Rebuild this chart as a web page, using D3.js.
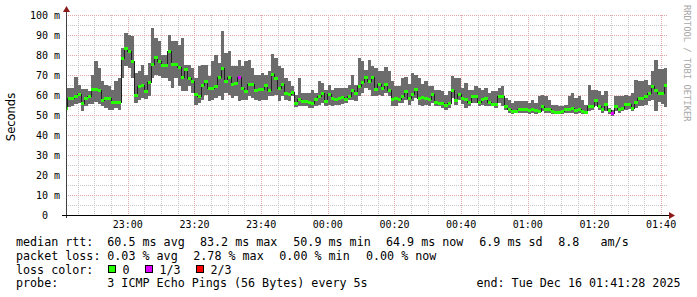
<!DOCTYPE html>
<html>
<head>
<meta charset="utf-8">
<script src="https://cdn.jsdelivr.net/npm/d3@7"></script>
<style>
html, body { margin: 0; padding: 0; background: #fff; }
svg text { font-family: "DejaVu Sans Mono", monospace; white-space: pre; }
</style>
</head>
<body>
<svg id="chart" width="697" height="297"></svg>
<script>
// rrd data, one row per 60s step starting 22:41 UTC (ms)
const stepStart = Date.UTC(2025, 11, 15, 22, 41, 0);
const stepMs = 60000;
const viewStart = Date.UTC(2025, 11, 15, 22, 41, 28);
const viewEnd = Date.UTC(2025, 11, 16, 1, 41, 28);

const median = [
  53.5,58.2,58.5,59.3,60.2,56,58.5,59.3,62.7,63,62.2,57.5,58.5,58.5,56.3,56.5,56.3,
  78.5,83.2,81.8,76.8,59.8,64.3,64.8,61.8,66.3,75.2,78.8,76.8,74.7,74.7,82,75.5,75.2,73.8,69,72.7,68.5,66.8,60.5,59.3,64.8,66.8,63.5,
  63.2,64.3,68.8,73.2,66.8,68.8,65.5,66,69,63.5,61.8,65.5,65.5,62.2,63,63,64.8,62.2,70.2,68.2,63.5,65.2,60.7,60.5,61.3,56,57.7,56.8,56.8,56.5,56,57.7,59.3,61,56.8,60.2,58.5,57.7,58.5,58.8,57.7,59.3,62.3,60.8,64.3,66.5,68.8,
  66.8,68.8,62.7,65.5,63.2,65.5,62.3,57.7,58.5,57.7,59.3,61.8,58.5,60.2,62.7,58.5,58.8,58.2,57.7,60.2,56.5,56,56,54.8,56,62.2,57.2,60.2,58.5,57.7,56.5,59.3,59.3,56.5,57.7,58.2,56.5,55.5,55.2,59.3,59.3,54.3,52.7,51.8,51.8,52.7,
  52.7,53,52.2,53,52.2,51.8,54.3,52.7,53,51.8,51.5,51.5,51.8,52.7,53,53.5,52.2,52.7,51.8,51.5,54.3,54.3,57.2,54.3,53,55.5,52.2,50.9,54.3,53,53.5,55.5,55.2,53.5,56.5,58.2,58.5,59.3,60.7,64.3,62.2,61,60.7,64.9
];
const pingMin = [
  52.7,54,54.5,55.5,56,52,54.3,55.5,55.5,56.5,55.5,54.3,53.5,52.7,52.5,53.5,52.7,
  68.5,74.3,73.5,68.5,56,57.7,58.5,58.2,59.3,68.5,70,69.5,68.5,68.5,66.8,63.5,68.5,64.3,61.8,61.8,64.3,61,55.2,56,57.7,60.2,56.8,
  57.7,58.5,59.3,57.7,61,60.2,58.5,59.3,56.8,57.7,57.7,59.3,58.5,57.7,56.8,57.7,57.7,59.3,59.3,60.2,56.8,59.3,57.7,56.8,59.3,53.8,54.3,54.3,54.3,53.5,53.5,54.3,55.2,56,54.3,55.2,54.3,55.2,55.2,55.5,56,57.7,57.7,56.8,59.3,61,63.5,
  62.7,59.3,59.3,60.2,59.3,61,59.3,54.3,54.3,56,56,57.7,55.2,56.8,58.5,55.2,54.3,55.2,54.3,56,54.3,54.3,53.5,52.7,53.5,58.5,55.2,57.7,55.5,53.5,54.3,56,56,54.3,55.2,54.3,54.3,54.3,53.5,56,54.3,52.7,51,50.7,51,51,
  51,51,50.5,51,50.7,51,52.2,51,51,50.5,50.5,50.5,50.5,51,51,51,50.5,51,50.5,50.5,52.2,52.5,54.3,52.5,51,52.2,50.5,49.7,52.2,51,52.2,52.5,53,52.2,53.5,54.3,54.3,55.2,56.8,57.7,52.2,56.5,55.5,54
];
const pingMax = [
  63.5,63.5,63.5,69,65,63,63,62,70,77,73.5,66.8,65.2,64.3,62.7,66.8,68.5,
  83.5,91,90,89.3,71,71.8,75,70,76,93.5,88.5,86.8,80,80,90,86.8,86.8,85,88.5,75,75,73.5,68.5,74.3,75,75,69.3,
  76.8,80,76,91.8,81,81.8,74.3,74.3,77.7,74.3,76.8,77.7,73.5,70.2,70.2,71,70.2,71.8,80.5,78.5,74.3,73.5,68.5,66.8,64.5,60.2,68.5,61,61,61,62.7,61,66.8,66,62.7,65,62.7,63.5,63.5,63.5,63.5,65,70.2,65,78.5,76.8,72.7,
  77.7,74.3,73.5,71.8,71.8,73.8,71.8,66.8,64.3,64.3,68.5,68.8,65.5,71,70.2,68.5,65.5,67,64.3,64.3,62.7,62.7,61.8,60.2,61.8,69.3,68.5,68.5,63.5,66,62.7,62.7,64.3,63.5,62.7,63.5,61,61.8,61.8,63.5,64.3,58.5,57.7,56,56.8,56.8,
  56.8,56.8,56,57.7,56,59.3,59.8,59.3,57.7,55.2,55.2,54.3,54.3,55.2,59.3,61,58.5,59.3,57.7,55.2,65.2,62.7,62.7,61.8,60.2,62.2,53.5,52.5,59.3,59.3,59.3,60.2,59.3,61,67.7,66.8,67,67.7,65,71.8,77.7,73.2,73.2,73.5
];
// steps that lost pings (index, lost of 3)
const lossSteps = [52, 164];
const lossCounts = [1, 1];

const yTicks = [0, 10, 20, 30, 40, 50, 60, 70, 80, 90, 100];
const lossLabels = ["0", "1/3", "2/3"];
const lossColors = ["#26ff00", "#dd00ff", "#ff0000"];

const rttLegend = ["median rtt:", "60.5 ms avg", "83.2 ms max", "50.9 ms min", "64.9 ms now", "6.9 ms sd", "8.8   am/s"];
const lossLegend = ["packet loss:", "0.03 % avg", "2.78 % max", "0.00 % min", "0.00 % now"];
const probeText = "3 ICMP Echo Pings (56 Bytes) every 5s";
const endText = "end: Tue Dec 16 01:41:28 2025";

const svg = d3.select("#chart");
const pLeft = 66, pRight = 666, pTop = 15, pBottom = 215;

const x = d3.scaleUtc().domain([viewStart, viewEnd]).range([pLeft, pRight]);
const y = d3.scaleLinear().domain([0, 100]).range([pBottom, pTop]);
const px = v => Math.round(v) + 0.5;

const loss = median.map(() => 0);
lossSteps.forEach((s, k) => loss[s] = lossCounts[k]);
const rows = median.map((m, i) => ({
  t0: stepStart + i * stepMs,
  t1: stepStart + (i + 1) * stepMs,
  med: m, lo: pingMin[i], hi: pingMax[i], loss: loss[i]
}));

// grid
const grid = svg.append("g");
const minorY = d3.range(5, 100, 10);
grid.selectAll(".hmin").data(minorY).enter().append("line")
  .attr("x1", pLeft).attr("x2", pRight + 2)
  .attr("y1", d => px(y(d))).attr("y2", d => px(y(d)))
  .attr("stroke", "#c8c8c8").attr("stroke-dasharray", "1,1");
const minorX = d3.utcMinute.every(5).range(new Date(viewStart), new Date(viewEnd))
  .filter(d => d.getUTCMinutes() % 20 !== 0);
grid.selectAll(".vmin").data(minorX).enter().append("line")
  .attr("x1", d => px(x(d))).attr("x2", d => px(x(d)))
  .attr("y1", pTop).attr("y2", pBottom)
  .attr("stroke", "#c8c8c8").attr("stroke-dasharray", "1,1");
grid.selectAll(".hmaj").data(yTicks.slice(1)).enter().append("line")
  .attr("x1", pLeft).attr("x2", pRight + 2)
  .attr("y1", d => px(y(d))).attr("y2", d => px(y(d)))
  .attr("stroke", "#e2a6a6").attr("stroke-dasharray", "1,1");
const majorX = d3.utcMinute.every(20).range(new Date(viewStart), new Date(viewEnd));
grid.selectAll(".vmaj").data(majorX).enter().append("line")
  .attr("x1", d => px(x(d))).attr("x2", d => px(x(d)))
  .attr("y1", pTop).attr("y2", pBottom)
  .attr("stroke", "#e2a6a6").attr("stroke-dasharray", "1,1");

// data
svg.append("clipPath").attr("id", "plot").append("rect")
  .attr("x", pLeft).attr("y", pTop).attr("width", pRight - pLeft + 1).attr("height", pBottom - pTop);
const plot = svg.append("g").attr("clip-path", "url(#plot)").attr("shape-rendering", "crispEdges");

plot.selectAll(".smoke").data(rows).enter().append("rect")
  .attr("x", d => x(d.t0)).attr("width", d => x(d.t1) - x(d.t0))
  .attr("y", d => y(d.hi)).attr("height", d => y(d.lo) - y(d.hi))
  .attr("fill", "#6c6c6c");

const stepLine = d3.line().x(d => x(d[0])).y(d => y(d[1])).curve(d3.curveStepAfter);
const medPts = rows.map(d => [d.t0, d.med]);
medPts.push([rows[rows.length - 1].t1, rows[rows.length - 1].med]);
plot.append("path").datum(medPts)
  .attr("d", stepLine).attr("fill", "none")
  .attr("stroke", "#202020").attr("stroke-width", 1);

plot.selectAll(".med").data(rows).enter().append("rect")
  .attr("x", d => x(d.t0)).attr("width", d => x(d.t1) - x(d.t0))
  .attr("y", d => y(d.med) - 1.5).attr("height", 3)
  .attr("fill", d => lossColors[d.loss]);

// axes
svg.append("line").attr("x1", px(pLeft)).attr("x2", px(pLeft)).attr("y1", pBottom + 3).attr("y2", 10)
  .attr("stroke", "#404040");
svg.append("line").attr("x1", pLeft - 4).attr("x2", pRight + 4).attr("y1", px(pBottom)).attr("y2", px(pBottom))
  .attr("stroke", "#000");
svg.append("path").attr("d", `M${pLeft + 0.5},6 L${pLeft - 3},12 L${pLeft + 4},12 Z`).attr("fill", "#8b1a1a");
svg.append("path").attr("d", `M${pRight + 9},${pBottom + 0.5} L${pRight + 3},${pBottom - 3} L${pRight + 3},${pBottom + 4} Z`).attr("fill", "#8b1a1a");

svg.selectAll(".ylab").data(yTicks).enter().append("text")
  .attr("x", 60).attr("y", d => y(d) + 3.5)
  .attr("text-anchor", "end").attr("font-size", 10)
  .text(d => d === 0 ? "0  " : d + " m");
svg.selectAll(".xlab").data(majorX).enter().append("text")
  .attr("x", d => x(d)).attr("y", 228)
  .attr("text-anchor", "middle").attr("font-size", 10)
  .text(d3.utcFormat("%H:%M"));

svg.append("text")
  .attr("transform", "translate(14.5,117) rotate(-90)")
  .attr("text-anchor", "middle").attr("font-size", 11.5)
  .style("font-family", "'DejaVu Sans', sans-serif")
  .text("Seconds");
svg.append("text")
  .attr("transform", "translate(684,5) rotate(90)")
  .attr("font-size", 8.8).attr("fill", "#a8a8a8")
  .text("RRDTOOL / TOBI OETIKER");

// legend
const lg = svg.append("g").attr("font-size", 11.7).attr("fill", "#000");
const rttX = [16, 107.3, 200, 293.3, 386, 479.3, 558.3];
lg.append("text").attr("y", 246).selectAll("tspan").data(rttLegend).enter().append("tspan")
  .attr("x", (d, i) => rttX[i]).text(d => d);
const lossX = [16, 107.3, 193.3, 279.3, 366];
lg.append("text").attr("y", 259.8).selectAll("tspan").data(lossLegend).enter().append("tspan")
  .attr("x", (d, i) => lossX[i]).text(d => d);

lg.append("text").attr("x", 16).attr("y", 273.6).text("loss color:");
const swX = [108.5, 145.5, 196.5];
lossLabels.forEach((lab, i) => {
  lg.append("rect").attr("x", swX[i]).attr("y", 265.5).attr("width", 7).attr("height", 7)
    .attr("fill", lossColors[i]).attr("stroke", "#000");
  lg.append("text").attr("x", swX[i] + 14).attr("y", 273.6).text(lab);
});

lg.append("text").attr("x", 16).attr("y", 287.4).text("probe:");
lg.append("text").attr("x", 107.3).attr("y", 287.4).text(probeText);
lg.append("text").attr("x", 680.5).attr("y", 287.4).attr("text-anchor", "end").text(endText);
</script>
</body>
</html>
